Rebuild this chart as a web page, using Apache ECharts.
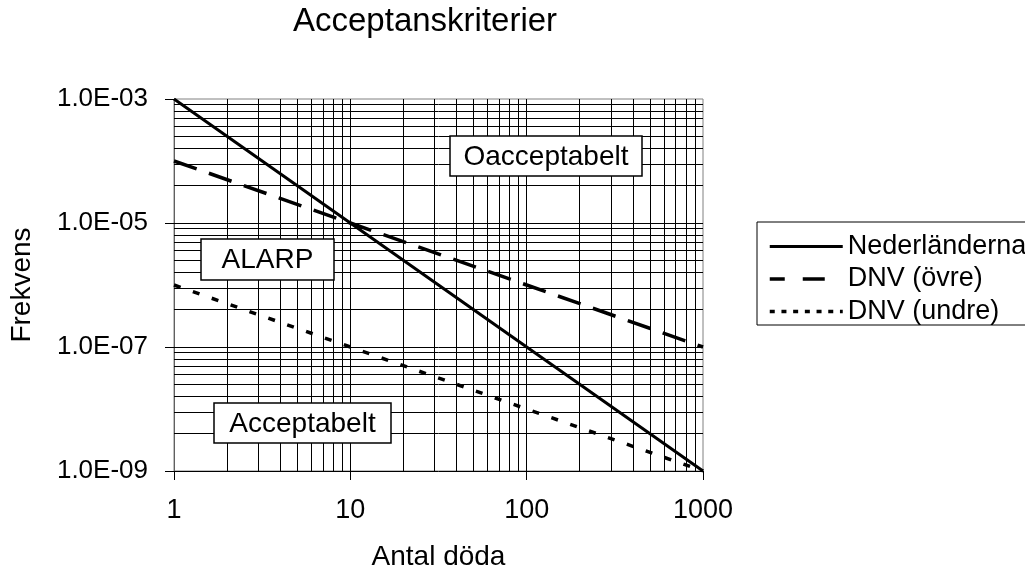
<!DOCTYPE html>
<html>
<head>
<meta charset="utf-8">
<script src="https://cdn.jsdelivr.net/npm/echarts@6/dist/echarts.min.js"></script>
<style>
html,body{margin:0;padding:0;background:#fff;}
#chart{width:1025px;height:572px;}
</style>
</head>
<body>
<div id="chart"></div>
<script>
// ---- data ----
const titleText = 'Acceptanskriterier';
const xName = 'Antal döda';
const yName = 'Frekvens';
const seriesNames = ['Nederländerna', 'DNV (övre)', 'DNV (undre)'];
const xValues = [1, 10, 100, 1000];
const nederlanderna = [1e-3, 1e-5, 1e-7, 1e-9];
const dnvOvre = [1e-4, 1e-5, 1e-6, 1e-7];
const dnvUndre = [1e-6, 1e-7, 1e-8, 1e-9];
const xTickValues = [1, 10, 100, 1000];
const yTickValues = [1e-9, 1e-7, 1e-5, 1e-3];
const xGridValues = [2, 3, 4, 5, 6, 7, 8, 9, 10, 20, 30, 40, 50, 60, 70, 80, 90, 100, 200, 300, 400, 500, 600, 700, 800, 900];
const yGridValues = [
  4e-9, 9e-9, 1.6e-8, 2.5e-8, 3.6e-8, 4.9e-8, 6.4e-8, 8.1e-8, 1e-7,
  4e-7, 9e-7, 1.6e-6, 2.5e-6, 3.6e-6, 4.9e-6, 6.4e-6, 8.1e-6, 1e-5,
  4e-5, 9e-5, 1.6e-4, 2.5e-4, 3.6e-4, 4.9e-4, 6.4e-4, 8.1e-4
];
const regionLabels = ['Oacceptabelt', 'ALARP', 'Acceptabelt'];

// ---- chart ----
const FONT = "'Liberation Sans', Arial, sans-serif";
function pairs(xs, ys) { return xs.map((x, i) => [x, ys[i]]); }
function sci(v) {
  const e = Math.round(Math.log10(v));
  const m = v / Math.pow(10, e);
  return m.toFixed(1) + 'E' + (e < 0 ? '-' : '+') + String(Math.abs(e)).padStart(2, '0');
}

const gridLines = []
  .concat(xGridValues.map(v => ({ xAxis: v })))
  .concat(yGridValues.map(v => ({ yAxis: v })));

const noSymbolLegend = { opacity: 0, color: 'transparent', borderWidth: 0 };
const boxFont = "28px 'Liberation Sans', Arial, sans-serif";

const chart = echarts.init(document.getElementById('chart'), null, { renderer: 'canvas' });
chart.setOption({
  animation: false,
  backgroundColor: '#fff',
  title: {
    text: titleText, left: 293, top: 5, padding: 0,
    textStyle: { fontFamily: FONT, fontSize: 33, fontWeight: 'normal', color: '#000' }
  },
  grid: {
    left: 174, right: 322, top: 99, bottom: 101,
    outerBoundsMode: 'none', containLabel: false,
    show: true, borderColor: '#808080', borderWidth: 1, backgroundColor: 'transparent'
  },
  legend: {
    orient: 'vertical', left: 757, top: 222,
    padding: [11, 10, 0, 11],
    itemWidth: 73, itemHeight: 14, itemGap: 5.5,
    borderColor: '#000', borderWidth: 1, backgroundColor: '#fff',
    textStyle: { fontFamily: FONT, fontSize: 27, color: '#000' },
    data: [
      { name: seriesNames[0], itemStyle: noSymbolLegend, lineStyle: { type: 'solid', width: 3 } },
      { name: seriesNames[1], itemStyle: noSymbolLegend, lineStyle: { type: [15, 18, 22, 100], width: 3.5 } },
      { name: seriesNames[2], itemStyle: noSymbolLegend, lineStyle: { type: [5, 6.7], width: 3.5 } }
    ]
  },
  xAxis: {
    type: 'log', logBase: 10, min: 1, max: 1000,
    name: xName, nameLocation: 'middle', nameGap: 72,
    nameTextStyle: { fontFamily: FONT, fontSize: 28, color: '#000' },
    axisLine: { show: true, lineStyle: { color: '#000', width: 1 } },
    axisTick: { show: true, inside: false, length: 9, lineStyle: { color: '#000' }, customValues: xTickValues },
    axisLabel: { margin: 26, fontFamily: FONT, fontSize: 27, color: '#000', customValues: xTickValues, formatter: v => String(v) },
    splitLine: { show: false },
    minorTick: { show: false }, minorSplitLine: { show: false }
  },
  yAxis: {
    type: 'log', logBase: 10, min: 1e-9, max: 1e-3,
    name: yName, nameLocation: 'middle', nameGap: 138, nameRotate: 90,
    nameTextStyle: { fontFamily: FONT, fontSize: 28, color: '#000' },
    axisLine: { show: true, lineStyle: { color: '#606060', width: 1 } },
    axisTick: { show: true, inside: false, length: 9, lineStyle: { color: '#000' }, customValues: yTickValues },
    axisLabel: { margin: 26, fontFamily: FONT, fontSize: 26, color: '#000', formatter: sci, customValues: yTickValues },
    splitLine: { show: false },
    minorTick: { show: false }, minorSplitLine: { show: false }
  },
  series: [
    {
      name: '__grid', type: 'line', data: [[1, 1e-9]], symbol: 'none', z: 1,
      lineStyle: { width: 0 }, silent: true, legendHoverLink: false,
      markLine: {
        silent: true, symbol: ['none', 'none'], label: { show: false },
        precision: 20,
        lineStyle: { color: '#000', width: 1, type: 'solid' },
        emphasis: { disabled: true },
        animation: false,
        data: gridLines
      }
    },
    {
      name: seriesNames[0], type: 'line', data: pairs(xValues, nederlanderna), z: 5,
      symbol: 'none', lineStyle: { color: '#000', width: 3, type: 'solid' }, itemStyle: { color: '#000' }
    },
    {
      name: seriesNames[1], type: 'line', data: pairs(xValues, dnvOvre), z: 5,
      symbol: 'none', lineStyle: { color: '#000', width: 3.5, type: [24, 13] }, itemStyle: { color: '#000' }
    },
    {
      name: seriesNames[2], type: 'line', data: pairs(xValues, dnvUndre), z: 5,
      symbol: 'none', lineStyle: { color: '#000', width: 3.5, type: [7, 13] }, itemStyle: { color: '#000' }
    }
  ],
  graphic: [
    { type: 'rect', z: 100, shape: { x: 450, y: 136, width: 192, height: 40 }, style: { fill: '#fff', stroke: '#000', lineWidth: 1.5 } },
    { type: 'text', z: 101, style: { x: 546, y: 157, text: regionLabels[0], font: boxFont, fill: '#000', align: 'center', verticalAlign: 'middle' } },
    { type: 'rect', z: 100, shape: { x: 201, y: 239, width: 133, height: 41 }, style: { fill: '#fff', stroke: '#000', lineWidth: 1.5 } },
    { type: 'text', z: 101, style: { x: 267.5, y: 260, text: regionLabels[1], font: boxFont, fill: '#000', align: 'center', verticalAlign: 'middle' } },
    { type: 'rect', z: 100, shape: { x: 214, y: 403, width: 177, height: 40 }, style: { fill: '#fff', stroke: '#000', lineWidth: 1.5 } },
    { type: 'text', z: 101, style: { x: 302.5, y: 424, text: regionLabels[2], font: boxFont, fill: '#000', align: 'center', verticalAlign: 'middle' } }
  ]
});
</script>
</body>
</html>
